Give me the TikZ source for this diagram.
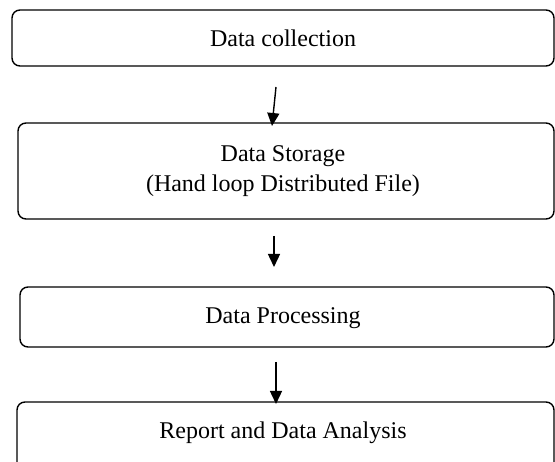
\documentclass[tikz,border=0pt]{standalone}
\usepackage{fontspec}
\setmainfont{Liberation Serif}
\usetikzlibrary{arrows.meta}
\begin{document}
\begin{tikzpicture}[x=1pt,y=-1pt,
  stage/.style={draw=black,line width=1.4pt,rounded corners=8pt},
  lbl/.style={font=\fontsize{24}{30}\selectfont,align=center,inner sep=0pt},
  flow/.style={line width=1.4pt,-{Triangle[length=13pt,width=12pt]}}]
\useasboundingbox (0,0) rectangle (555,462);
\clip (0,0) rectangle (555,462);
\draw[stage] (12,10) rectangle (554,66);
\node[lbl] (a) at (283,38) {Data collection};
\draw[stage] (18,123) rectangle (554,219);
\node[lbl] (b) at (283,171) {Data Storage\\(Hand loop Distributed File)};
\draw[stage] (20,287) rectangle (554,347);
\node[lbl] (c) at (283,318) {Data Processing};
\draw[stage] (17,402) rectangle (554,480);
\node[lbl] (d) at (283,433) {Report and Data Analysis};
\coordinate (a1) at (276,87);
\coordinate (b1) at (272,126);
\coordinate (b2) at (274,236);
\coordinate (c1) at (274,267);
\coordinate (c2) at (276,362);
\coordinate (d1) at (276,404);
\draw[flow] (a1) -- (b1);
\draw[flow] (b2) -- (c1);
\draw[flow] (c2) -- (d1);
\end{tikzpicture}
\end{document}
